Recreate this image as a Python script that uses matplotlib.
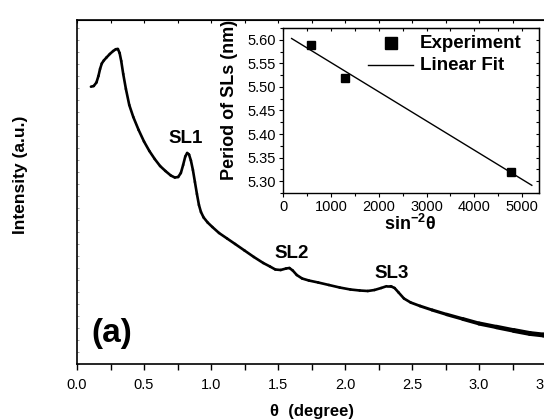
import numpy as np
import matplotlib
matplotlib.use("Agg")
import matplotlib.pyplot as plt
from matplotlib.ticker import MultipleLocator, NullFormatter, NullLocator
from matplotlib.collections import LineCollection

plt.rcParams['font.family'] = ['Liberation Sans', 'DejaVu Sans']
plt.rcParams['mathtext.fontset'] = 'custom'
plt.rcParams['mathtext.rm'] = 'Liberation Sans'
plt.rcParams['mathtext.bf'] = 'Liberation Sans:bold'
plt.rcParams['mathtext.it'] = 'Liberation Sans:italic'

# ---- main XRR curve ----
theta = [0.104, 0.125, 0.145, 0.160, 0.172, 0.185, 0.200, 0.220, 0.245, 0.270,
         0.290, 0.305, 0.318, 0.330, 0.345, 0.365, 0.390, 0.420, 0.460, 0.500,
         0.540, 0.580, 0.620, 0.660, 0.700, 0.730, 0.755, 0.775, 0.792, 0.808,
         0.822, 0.836, 0.850, 0.865, 0.880, 0.895, 0.910, 0.925, 0.945, 0.975,
         1.010, 1.060, 1.120, 1.180, 1.250, 1.320, 1.390, 1.440, 1.480, 1.520,
         1.560, 1.585, 1.610, 1.640, 1.680, 1.730, 1.800, 1.880, 1.960, 2.040,
         2.110, 2.170, 2.220, 2.270, 2.310, 2.340, 2.370, 2.400, 2.440, 2.490,
         2.560, 2.650, 2.760, 2.880, 3.000, 3.130, 3.260, 3.380, 3.480, 3.600]
intensity = [277.3, 278.0, 281.5, 288.0, 295.0, 300.5, 303.5, 306.5, 310.0, 313.0,
             314.8, 315.0, 311.0, 303.0, 290.0, 275.0, 259.0, 247.0, 234.0, 222.5,
             213.0, 205.0, 198.0, 193.0, 188.5, 186.5, 187.0, 191.0, 199.0, 207.5,
             211.0, 209.5, 203.5, 194.0, 182.0, 170.0, 159.0, 152.0, 146.5, 141.5,
             137.0, 131.0, 125.5, 120.0, 113.5, 107.0, 101.0, 97.5, 94.5, 94.0,
             95.5, 96.0, 93.5, 89.0, 85.5, 83.5, 81.5, 79.0, 76.5, 74.5,
             73.5, 73.0, 74.0, 76.0, 77.8, 77.8, 76.0, 71.5, 65.5, 61.5,
             58.0, 54.0, 49.5, 45.0, 40.5, 37.0, 33.5, 30.5, 29.0, 26.5]

peak_labels = ["SL1", "SL2", "SL3"]
peak_label_pos = [(0.81, 226), (1.6, 111), (2.35, 91)]

# ---- inset data ----
sin_m2 = [580, 1290, 4770]
period = [5.59, 5.52, 5.32]
fit_range = [180, 5200]

fig = plt.figure(figsize=(5.44, 4.19), dpi=100)

# main axes (extends beyond the right edge, as in the reference)
ax = fig.add_axes([77/544, 55/419, 502.5/544, 344/419])
pts = np.column_stack([theta, intensity])
segs = np.stack([pts[:-1], pts[1:]], axis=1)
widths = [1.9 if t < 2.45 else 1.9 + min(1.6, (t - 2.45) * 2.0) for t in theta[:-1]]
lc = LineCollection(segs, colors='black', linewidths=widths, capstyle='round',
                    joinstyle='round')
ax.add_collection(lc)
ax.set_xlim(0, 3.75)
ax.set_ylim(0, 344)
ax.xaxis.set_major_locator(MultipleLocator(0.5))
ax.xaxis.set_minor_locator(MultipleLocator(0.25))
ax.xaxis.set_major_formatter(plt.FuncFormatter(lambda v, p: f"{v:.1f}"))
ax.yaxis.set_major_locator(NullLocator())
ax.yaxis.set_minor_locator(MultipleLocator(12))
ax.yaxis.set_minor_formatter(NullFormatter())
ax.tick_params(axis='x', which='both', direction='out', length=4, width=1.0,
               labelsize=10.5, pad=6, top=False)
ax.tick_params(axis='y', which='minor', direction='in', length=1.2, width=0.4,
               color='#555555')
for s in ax.spines.values():
    s.set_linewidth(1.2)
ax2 = ax.secondary_xaxis('top')
ax2.xaxis.set_major_locator(MultipleLocator(0.25))
ax2.tick_params(direction='in', length=2.5, width=0.8, labelsize=0)
ax2.set_xticklabels([])

for lab, (x, y) in zip(peak_labels, peak_label_pos):
    ax.text(x, y, lab, fontsize=13.5, fontweight='bold', ha='center', va='center')
ax.text(0.26, 31, "(a)", fontsize=24, fontweight='bold', ha='center', va='center')

fig.text(312/544, 1 - 411/419, "θ  (degree)", fontsize=12, fontweight='bold',
         ha='center', va='center')
fig.text(21/544, 1 - 175/419, "Intensity (a.u.)", fontsize=12.5, fontweight='bold',
         ha='center', va='center', rotation=90)

# inset
ins = fig.add_axes([283/544, 1 - 193/419, 256/544, 165/419])
ins.plot(sin_m2, period, 's', color='black', ms=5.5)
coef = np.polyfit(sin_m2, period, 1)
fx = np.array(fit_range, dtype=float)
ins.plot(fx, np.polyval(coef, fx), color='black', lw=1.0)
ins.set_xlim(0, 5350)
ins.set_ylim(5.2745, 5.6255)
ins.xaxis.set_major_locator(MultipleLocator(1000))
ins.xaxis.set_minor_locator(MultipleLocator(500))
ins.yaxis.set_major_locator(MultipleLocator(0.05))
ins.yaxis.set_minor_locator(MultipleLocator(0.025))
ins.yaxis.set_major_formatter(plt.FuncFormatter(lambda v, p: f"{v:.2f}"))
ins.tick_params(which='both', direction='out', labelsize=10.5, width=0.8)
ins.tick_params(which='major', length=3)
ins.tick_params(which='minor', length=2)
ins.tick_params(axis='x', pad=2)
ins.tick_params(axis='y', pad=2)
for s in ins.spines.values():
    s.set_linewidth(1.0)
insr = ins.secondary_yaxis('right')
insr.yaxis.set_major_locator(MultipleLocator(0.025))
insr.tick_params(direction='in', length=2.5, width=0.8)
insr.set_yticklabels([])
inst = ins.secondary_xaxis('top')
inst.xaxis.set_major_locator(MultipleLocator(500))
inst.tick_params(direction='in', length=2.5, width=0.8)
inst.set_xticklabels([])

fig.text(230/544, 1 - 100/419, "Period of SLs (nm)", fontsize=13, fontweight='bold',
         ha='center', va='center', rotation=90)
fig.text(410/544, 1 - 230/419, r"$\mathbf{sin^{-2}θ}$", fontsize=13,
         ha='center', va='baseline')

# legend (manual, in inset axes fraction)
def axfrac(px, py):
    return ((px - 283) / 256, (193 - py) / 165)

mx, my = axfrac(391, 43)
ins.plot([mx], [my], 's', color='black', ms=8, transform=ins.transAxes, clip_on=False)
tx, ty = axfrac(420, 43)
ins.text(tx, ty, "Experiment", transform=ins.transAxes, fontsize=13.5,
         fontweight='bold', ha='left', va='center')
l0, ly = axfrac(368, 65)
l1, _ = axfrac(413, 65)
ins.plot([l0, l1], [ly, ly], color='black', lw=1.0, transform=ins.transAxes)
tx2, ty2 = axfrac(420, 66)
ins.text(tx2, ty2, "Linear Fit", transform=ins.transAxes, fontsize=13.5,
         fontweight='bold', ha='left', va='center')

fig.savefig("out.png", dpi=100)
